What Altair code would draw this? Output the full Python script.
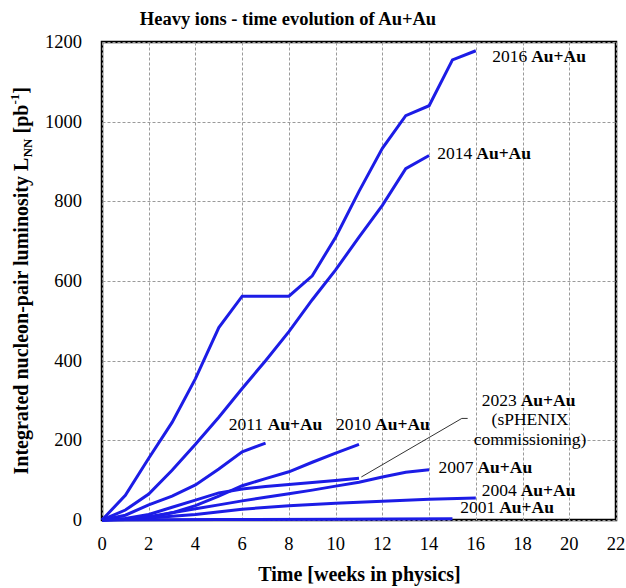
import altair as alt
import pandas as pd

FONT = "Liberation Serif"
BLUE = "#1c1ce6"

# Integrated nucleon-pair luminosity [pb^-1] by week of physics running, per Au+Au run
w2016 = [0, 1, 2, 3, 4, 5, 6, 8, 9, 10, 11, 12, 13, 14, 15, 16]
l2016 = [0, 62, 155, 245, 355, 483, 562, 562, 613, 710, 825, 933, 1015, 1040, 1155, 1178]
w2014 = [0, 1, 2, 3, 4, 5, 6, 7, 8, 9, 10, 11, 12, 13, 14]
l2014 = [0, 25, 65, 125, 190, 258, 330, 400, 473, 553, 628, 710, 790, 882, 915]
w2011 = [0, 1, 2, 3, 4, 5, 6, 7]
l2011 = [0, 12, 38, 60, 88, 128, 171, 193]
w2010 = [0, 1, 2, 3, 4, 5, 6, 7, 8, 9, 10, 11]
l2010 = [0, 1, 6, 18, 36, 60, 86, 104, 121, 145, 168, 190]
w2023 = [0, 1, 2, 3, 4, 5, 6, 7, 8, 9, 10, 11]
l2023 = [0, 4, 14, 32, 50, 68, 78, 84, 89, 94, 99, 105]
w2007 = [0, 1, 2, 3, 4, 5, 6, 7, 8, 9, 10, 11, 12, 13, 14]
l2007 = [0, 2, 8, 18, 28, 38, 48, 57, 66, 75, 85, 95, 108, 120, 126]
w2004 = [0, 2, 4, 6, 8, 10, 12, 14, 16]
l2004 = [0, 5, 14, 27, 36, 42, 47, 52, 55]
w2001 = [0, 5, 10, 15]
l2001 = [0, 1, 2, 3]

# Run labels: year (regular) followed by bold "Au+Au"
label_year = ["2016", "2014", "2011", "2010", "2023", "2007", "2004", "2001"]
label_week = [16.7, 14.35, 5.42, 10.02, 16.25, 14.4, 16.25, 15.33]
label_lum = [1163, 920, 238, 238, 300, 130, 74, 29]

# Extra note under the 2023 label and its leader line
note_text = ["(sPHENIX", "commissioning)"]
note_week = [18.32, 18.32]
note_lum = [251, 201]
leader_week = [11.1, 15.4, 15.65]
leader_lum = [108, 255, 255]

x_ticks = list(range(0, 23, 2))
y_ticks = list(range(0, 1201, 200))

runs = [
    ("2016", w2016, l2016), ("2014", w2014, l2014), ("2011", w2011, l2011),
    ("2010", w2010, l2010), ("2023", w2023, l2023), ("2007", w2007, l2007),
    ("2004", w2004, l2004), ("2001", w2001, l2001),
]
rows = []
for name, ws, ls in runs:
    for i, (w, l) in enumerate(zip(ws, ls)):
        rows.append({"run": name, "week": w, "lum": l, "order": i})
df_runs = pd.DataFrame(rows)

df_labels = pd.DataFrame({"year": label_year, "week": label_week, "lum": label_lum})
df_note = pd.DataFrame({"t": note_text, "week": note_week, "lum": note_lum})
df_leader = pd.DataFrame({"week": leader_week, "lum": leader_lum, "order": [0, 1, 2]})
df_xt = pd.DataFrame({"week": x_ticks, "lum": [0] * len(x_ticks),
                      "t": [str(v) for v in x_ticks]})
df_yt = pd.DataFrame({"week": [0] * len(y_ticks), "lum": y_ticks,
                      "t": [str(v) for v in y_ticks]})

xs = alt.Scale(domain=[0, 22], nice=False)
ys = alt.Scale(domain=[0, 1200], nice=False)

grid_style = dict(gridColor="#9a9a9a", gridDash=[3, 2], gridWidth=1, gridOpacity=1,
                  titleFont=FONT, titleFontSize=20, titleFontWeight="bold",
                  titleColor="black")

x_enc = alt.X(
    "week:Q", scale=xs,
    axis=alt.Axis(values=x_ticks, title="Time [weeks in physics]", grid=True,
                  ticks=False, domain=False, labels=False, titlePadding=44,
                  **grid_style),
)
y_enc = alt.Y(
    "lum:Q", scale=ys,
    axis=alt.Axis(values=y_ticks, title=None, grid=True, ticks=False,
                  domain=False, labels=False, **grid_style),
)

lines = alt.Chart(df_runs).mark_line(color=BLUE, strokeWidth=3).encode(
    x=x_enc, y=y_enc, detail="run:N", order="order:Q"
)

leader = alt.Chart(df_leader).mark_line(color="#333333", strokeWidth=1).encode(
    x="week:Q", y="lum:Q", order="order:Q"
)

# Tick labels for both axes
x_labels = alt.Chart(df_xt).mark_text(
    align="center", baseline="middle", font=FONT, fontSize=18.5, color="black", dy=24
).encode(x="week:Q", y="lum:Q", text="t:N")
y_labels = alt.Chart(df_yt).mark_text(
    align="right", baseline="middle", font=FONT, fontSize=18.5, color="black", dx=-20
).encode(x="week:Q", y="lum:Q", text="t:N")

years = alt.Chart(df_labels).mark_text(
    align="left", baseline="middle", font=FONT, fontSize=17.5, color="black"
).encode(x="week:Q", y="lum:Q", text="year:N")

species = alt.Chart(df_labels).mark_text(
    align="left", baseline="middle", font=FONT, fontSize=17.5, fontWeight="bold",
    color="black", dx=39
).encode(x="week:Q", y="lum:Q", text=alt.value("Au+Au"))

notes = alt.Chart(df_note).mark_text(
    align="center", baseline="middle", font=FONT, fontSize=17.5, color="black"
).encode(x="week:Q", y="lum:Q", text="t:N")

# Chart title
title_df = pd.DataFrame({"t": ["Heavy ions - time evolution of Au+Au"]})
title = alt.Chart(title_df).mark_text(
    align="center", baseline="middle", font=FONT, fontSize=18.5,
    fontWeight="bold", color="black"
).encode(x=alt.value(186), y=alt.value(-23), text="t:N")

# Rotated y-axis title assembled from parts so that NN is a subscript and -1 a superscript
ytitle_df = pd.DataFrame({
    "t": ["Integrated nucleon-pair luminosity L", "NN", "[pb", "-1", "]"],
    "px": [-80, -74, -80, -87, -80],
    "py": [432.5, 115.3, 91.5, 62.6, 51.8],
    "fs": [20, 13, 20, 13, 20],
})
ytitle = alt.Chart(ytitle_df).mark_text(
    align="left", baseline="middle", font=FONT, fontWeight="bold",
    color="black", angle=270
).encode(
    x=alt.X("px:Q", scale=None), y=alt.Y("py:Q", scale=None), text="t:N",
    size=alt.Size("fs:Q", scale=None, legend=None),
)

chart = alt.layer(
    lines, leader, x_labels, y_labels, years, species, notes, title, ytitle
).properties(
    width=514, height=478,
    autosize=alt.AutoSizeParams(type="none"),
    padding={"left": 102, "top": 42, "right": 10, "bottom": 68},
).configure(
    font=FONT,
).configure_view(
    stroke="black", strokeWidth=2.5
)

chart.save("out.html", embed_options={"renderer": "svg", "actions": False})
